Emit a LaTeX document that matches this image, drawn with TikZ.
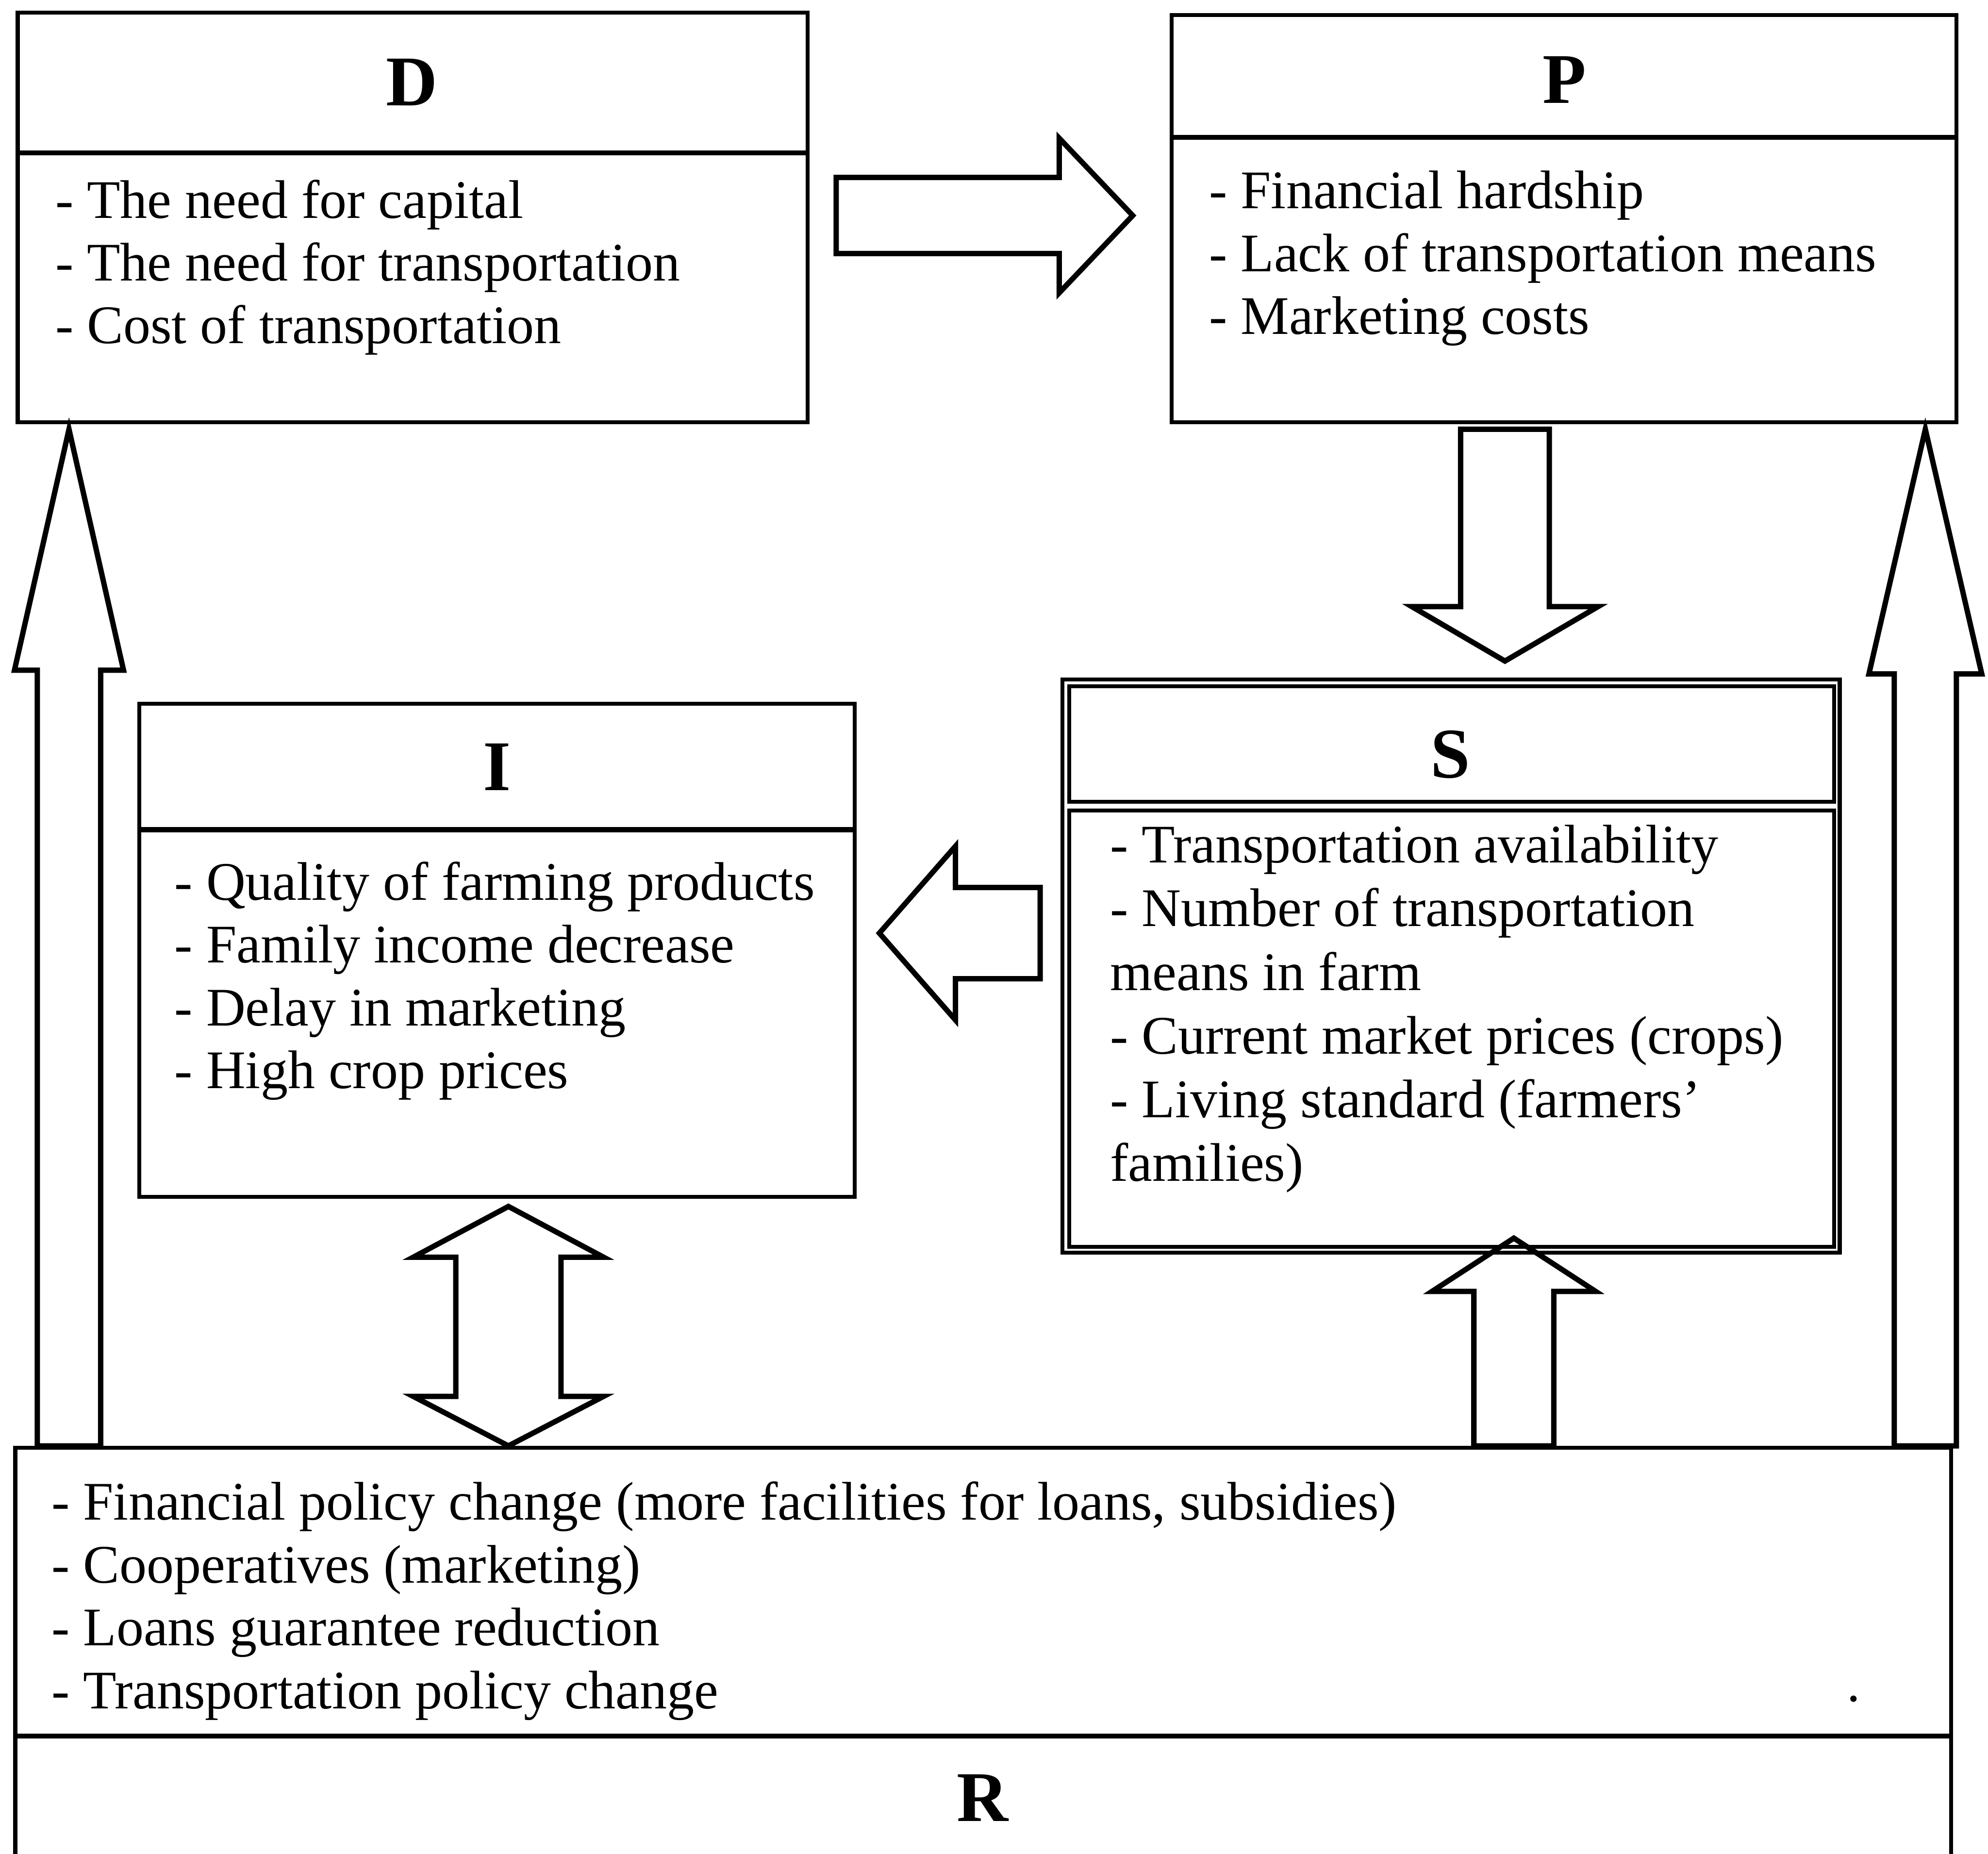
\documentclass[tikz,border=0pt]{standalone}
\usepackage{fontspec}
\setmainfont{Liberation Serif}
\usetikzlibrary{calc}

% hollow block arrow: start, tip, shaft half width, head half width, head length
\newcommand{\blockarrow}[5]{%
  \draw[fatline] ($(#1)!#3!90:(#2)$) -- ($(#2)!#5!(#1)!#3!90:(#2)$)
    -- ($(#2)!#5!(#1)!#4!90:(#2)$) -- (#2)
    -- ($(#2)!#5!(#1)!#4!-90:(#2)$) -- ($(#2)!#5!(#1)!#3!-90:(#2)$)
    -- ($(#1)!#3!-90:(#2)$) -- cycle;}
% same with a head on both ends: end a, end b, shaft half, head half, head lengths
\newcommand{\blockdarrow}[6]{%
  \draw[fatline] (#1) -- ($(#1)!#5!(#2)!#4!90:(#2)$) -- ($(#1)!#5!(#2)!#3!90:(#2)$)
    -- ($(#2)!#6!(#1)!#3!90:(#2)$) -- ($(#2)!#6!(#1)!#4!90:(#2)$) -- (#2)
    -- ($(#2)!#6!(#1)!#4!-90:(#2)$) -- ($(#2)!#6!(#1)!#3!-90:(#2)$)
    -- ($(#1)!#5!(#2)!#3!-90:(#2)$) -- ($(#1)!#5!(#2)!#4!-90:(#2)$) -- cycle;}

\begin{document}
\begin{tikzpicture}[x=0.1mm, y=-0.1mm,
    box/.style={draw, line width=0.9pt, inner sep=0pt},
    divider/.style={line width=1.1pt},
    fatline/.style={line width=1.2pt},
    title/.style={font=\fontsize{16}{19}\selectfont\bfseries, inner sep=0pt},
    items/.style={font=\fontsize{12.2}{14.1}\selectfont, align=left, inner sep=0pt, anchor=north west}]
    \useasboundingbox (0,0) rectangle (1568,1462);

    % D box
    \node[box, minimum width=62.3mm, minimum height=32.3mm] (D) at (325.5,171.5) {};
    \draw[divider] ($(D.north west)+(0,112)$) -- ($(D.north east)+(0,112)$);
    \node[title] (Dtitle) at (325,65) {D};
    \node[items] (Dlist) at (43,141) {- The need for capital\\- The need for transportation\\- Cost of transportation};

    % P box
    \node[box, minimum width=61.9mm, minimum height=32.1mm] (P) at (1233.5,172.5) {};
    \draw[divider] ($(P.north west)+(0,98)$) -- ($(P.north east)+(0,98)$);
    \node[title] (Ptitle) at (1234,63) {P};
    \node[items] (Plist) at (953,134) {- Financial hardship\\- Lack of transportation means\\- Marketing costs};

    % I box
    \node[box, minimum width=56.4mm, minimum height=38.9mm] (I) at (392,749.5) {};
    \draw[divider] ($(I.north west)+(0,101)$) -- ($(I.north east)+(0,101)$);
    \node[title] (Ititle) at (392,605) {I};
    \node[items] (Ilist) at (137,679) {- Quality of farming products\\- Family income decrease\\- Delay in marketing\\- High crop prices};

    % S box, double frame
    \node[box, minimum width=61.3mm, minimum height=45.2mm] (S) at (1144.5,762) {};
    \draw[line width=0.9pt] ($(S.north west)+(7,7)$) rectangle ($(S.north east)+(-6,98)$);
    \draw[line width=0.9pt] ($(S.north west)+(7,105)$) rectangle ($(S.south east)+(-6,-6)$);
    \node[title] (Stitle) at (1144,595) {S};
    \node[items, font=\fontsize{12.2}{14.3}\selectfont] (Slist) at (875,650) {- Transportation availability\\- Number of transportation\\means in farm\\- Current market prices (crops)\\- Living standard (farmers'\\families)};

    % R box
    \node[box, minimum width=152.7mm, minimum height=36mm] (R) at (775.5,1322) {};
    \draw[divider] ($(R.north west)+(0,229)$) -- ($(R.north east)+(0,229)$);
    \node[title] (Rtitle) at (775,1418) {R};
    \node[items] (Rlist) at (40,1168) {- Financial policy change (more facilities for loans, subsidies)\\- Cooperatives (marketing)\\- Loans guarantee reduction\\- Transportation policy change};
    \node[inner sep=0pt, font=\fontsize{12}{14}\selectfont] (Rdot) at (1462,1340) {.};

    % arrow ends
    \coordinate (dp1) at ($(D.east)+(21,-1.5)$);
    \coordinate (dp2) at ($(P.west)+(-29,-2.5)$);
    \coordinate (ps1) at ($(P.south)+(-46.5,4)$);
    \coordinate (ps2) at ($(S.north)+(42.5,-13)$);
    \coordinate (si1) at ($(S.west)+(-16,-26)$);
    \coordinate (si2) at ($(I.east)+(18,-13.5)$);
    \coordinate (ir1) at ($(I.south)+(9,6)$);
    \coordinate (ir2) at (ir1 |- R.north);
    \coordinate (rs2) at ($(S.south)+(49.5,-13)$);
    \coordinate (rs1) at (rs2 |- R.north);
    \coordinate (rd2) at ($(D.south west)+(42,4)$);
    \coordinate (rd1) at (rd2 |- R.north);
    \coordinate (rp2) at ($(P.south east)+(-26,4)$);
    \coordinate (rp1) at (rp2 |- R.north);

    % block arrows
    \blockarrow{dp1}{dp2}{3mm}{6.1mm}{5.8mm}
    \blockarrow{ps1}{ps2}{3.5mm}{7.35mm}{4.3mm}
    \blockarrow{si1}{si2}{3.6mm}{6.85mm}{6mm}
    \blockdarrow{ir1}{ir2}{4.15mm}{7.5mm}{4mm}{3.9mm}
    \blockarrow{rs1}{rs2}{3.15mm}{6.45mm}{4.2mm}
    \blockarrow{rd1}{rd2}{2.5mm}{4.3mm}{19mm}
    \blockarrow{rp1}{rp2}{2.45mm}{4.45mm}{19.3mm}
\end{tikzpicture}
\end{document}
